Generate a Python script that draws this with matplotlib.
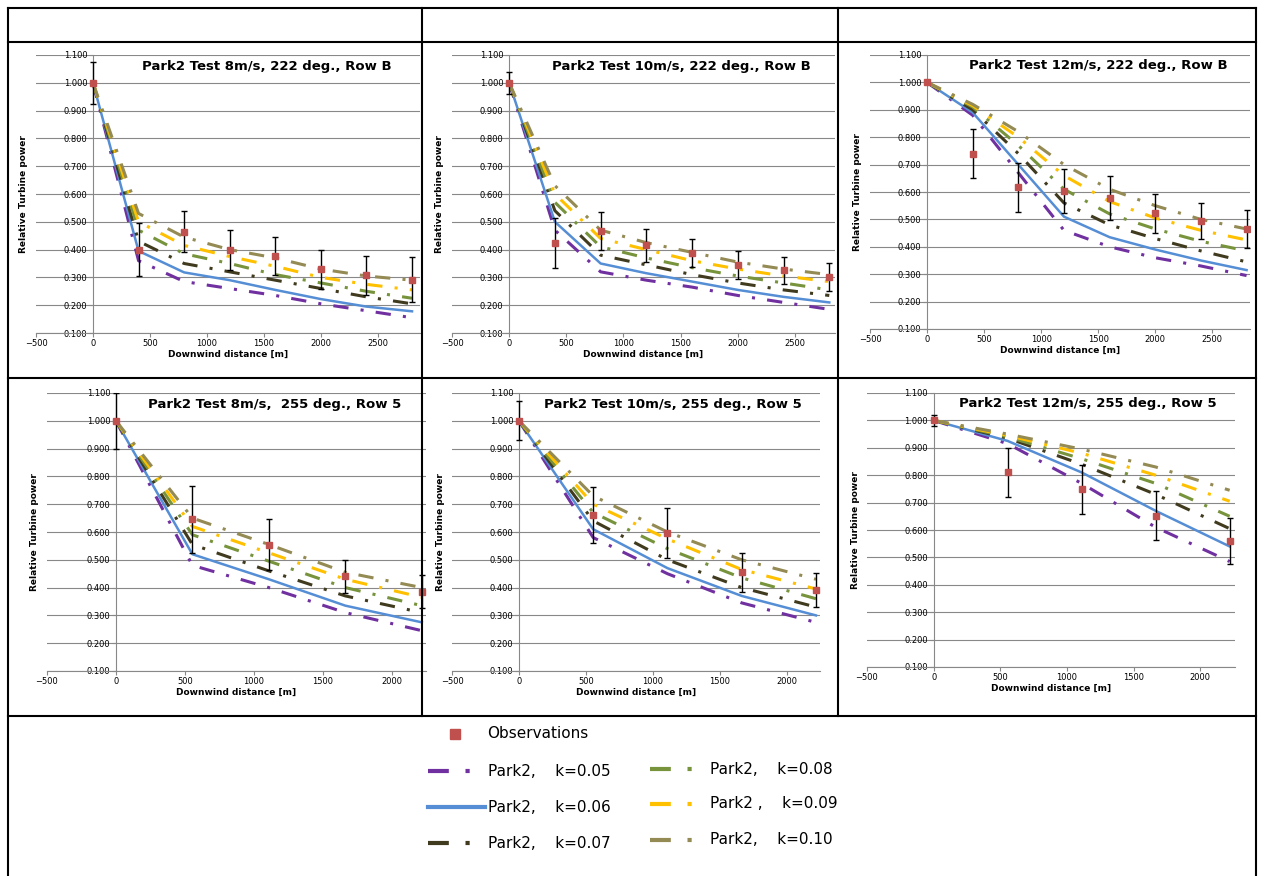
import numpy as np
import matplotlib.pyplot as plt
from matplotlib.lines import Line2D

W, H = 1265, 876

x_rowB = [0, 400, 800, 1200, 1600, 2000, 2400, 2800]
x_row5 = [0, 555, 1110, 1665, 2220]
k_labels = ['k=0.05', 'k=0.06', 'k=0.07', 'k=0.08', 'k=0.09', 'k=0.10']

titles = ['Park2 Test 8m/s, 222 deg., Row B', 'Park2 Test 10m/s, 222 deg., Row B',
          'Park2 Test 12m/s, 222 deg., Row B', 'Park2 Test 8m/s,  255 deg., Row 5',
          'Park2 Test 10m/s, 255 deg., Row 5', 'Park2 Test 12m/s, 255 deg., Row 5']

obs = [
    [1.0, 0.40, 0.465, 0.398, 0.378, 0.33, 0.308, 0.292],
    [1.0, 0.425, 0.467, 0.415, 0.387, 0.345, 0.325, 0.302],
    [1.0, 0.74, 0.617, 0.605, 0.578, 0.522, 0.495, 0.465],
    [1.0, 0.645, 0.555, 0.44, 0.385],
    [1.0, 0.662, 0.595, 0.455, 0.392],
    [1.0, 0.81, 0.748, 0.652, 0.56],
]
err = [
    [0.075, 0.095, 0.075, 0.072, 0.068, 0.07, 0.07, 0.08],
    [0.04, 0.09, 0.07, 0.06, 0.05, 0.05, 0.05, 0.05],
    [0.005, 0.09, 0.09, 0.08, 0.08, 0.07, 0.065, 0.07],
    [0.10, 0.12, 0.09, 0.06, 0.06],
    [0.07, 0.10, 0.09, 0.07, 0.06],
    [0.02, 0.09, 0.09, 0.09, 0.085],
]
model = [
    [[1, 0.36, 0.285, 0.26, 0.235, 0.205, 0.18, 0.155],
     [1, 0.395, 0.318, 0.29, 0.255, 0.222, 0.195, 0.178],
     [1, 0.43, 0.35, 0.32, 0.29, 0.26, 0.23, 0.205],
     [1, 0.47, 0.385, 0.35, 0.31, 0.28, 0.25, 0.225],
     [1, 0.50, 0.415, 0.375, 0.34, 0.30, 0.275, 0.255],
     [1, 0.53, 0.445, 0.40, 0.37, 0.33, 0.305, 0.29]],
    [[1, 0.47, 0.32, 0.29, 0.265, 0.235, 0.21, 0.185],
     [1, 0.50, 0.35, 0.315, 0.285, 0.255, 0.23, 0.21],
     [1, 0.54, 0.38, 0.345, 0.31, 0.28, 0.255, 0.235],
     [1, 0.57, 0.41, 0.37, 0.335, 0.305, 0.28, 0.255],
     [1, 0.60, 0.44, 0.40, 0.36, 0.33, 0.305, 0.285],
     [1, 0.63, 0.47, 0.425, 0.39, 0.355, 0.33, 0.31]],
    [[1, 0.88, 0.67, 0.46, 0.40, 0.36, 0.33, 0.295],
     [1, 0.89, 0.70, 0.51, 0.435, 0.39, 0.35, 0.315],
     [1, 0.90, 0.74, 0.56, 0.48, 0.43, 0.385, 0.345],
     [1, 0.91, 0.77, 0.61, 0.52, 0.465, 0.42, 0.385],
     [1, 0.915, 0.80, 0.66, 0.565, 0.505, 0.46, 0.425],
     [1, 0.92, 0.82, 0.70, 0.61, 0.55, 0.50, 0.465]],
    [[1, 0.48, 0.40, 0.31, 0.245],
     [1, 0.52, 0.43, 0.335, 0.275],
     [1, 0.555, 0.46, 0.37, 0.31],
     [1, 0.59, 0.495, 0.40, 0.335],
     [1, 0.62, 0.525, 0.43, 0.365],
     [1, 0.65, 0.555, 0.455, 0.40]],
    [[1, 0.58, 0.45, 0.345, 0.275],
     [1, 0.61, 0.47, 0.37, 0.30],
     [1, 0.64, 0.50, 0.40, 0.33],
     [1, 0.67, 0.54, 0.435, 0.36],
     [1, 0.70, 0.575, 0.465, 0.395],
     [1, 0.73, 0.60, 0.50, 0.43]],
    [[1, 0.915, 0.77, 0.61, 0.485],
     [1, 0.925, 0.81, 0.67, 0.54],
     [1, 0.935, 0.84, 0.73, 0.605],
     [1, 0.94, 0.86, 0.77, 0.65],
     [1, 0.945, 0.88, 0.80, 0.705],
     [1, 0.95, 0.895, 0.83, 0.745]],
]

colors = ['#7030A0', '#558ED5', '#403A1E', '#77933C', '#FFC000', '#948A54']
dash = (0, (5, 4, 1, 4))
styles = [dash, '-', dash, dash, dash, dash]
widths = [2.2, 1.8, 2.2, 2.2, 2.2, 2.2]

# axes rectangles in pixels: left, right, top, bottom, xmax
rects = [
    (36, 420, 55, 333, 2870),
    (452, 835, 55, 333, 2850),
    (870, 1250, 55, 329, 2830),
    (47, 426, 393, 671, 2250),
    (452, 820, 393, 671, 2250),
    (867, 1235, 393, 667, 2260),
]

fig = plt.figure(figsize=(W / 100, H / 100), dpi=100)

for i in range(6):
    l, r, t, b, xmax = rects[i]
    ax = fig.add_axes([l / W, 1 - b / H, (r - l) / W, (b - t) / H])
    xs = x_rowB if i < 3 else x_row5
    for j in range(6):
        ax.plot(xs, model[i][j], color=colors[j], linestyle=styles[j], lw=widths[j])
    ax.errorbar(xs, obs[i], yerr=err[i], fmt='s', color='#C0504D', ms=5,
                ecolor='black', elinewidth=1, capsize=2, zorder=5)
    ax.set_xlim(-500, xmax)
    ax.set_ylim(0.1, 1.1)
    ax.set_yticks(np.arange(0.1, 1.101, 0.1))
    ax.set_yticklabels([f'{v:.3f}' for v in np.arange(0.1, 1.101, 0.1)])
    ax.set_xticks(np.arange(-500, xmax, 500))
    ax.grid(axis='y', color='#888888', lw=0.8)
    ax.set_axisbelow(True)
    for s in ['top', 'right']:
        ax.spines[s].set_visible(False)
    ax.spines['left'].set_position(('data', 0))
    ax.spines['left'].set_color('#888888')
    ax.spines['bottom'].set_color('#888888')
    ax.tick_params(labelsize=6, length=3, color='#888888', pad=1)
    ax.set_xlabel('Downwind distance [m]', fontsize=6.5, fontweight='bold', labelpad=2)
    ax.set_ylabel('Relative Turbine power', fontsize=6.5, fontweight='bold', labelpad=2)
    ax.yaxis.set_label_coords(-0.02, 0.5)
    ax.text(0.6, 0.96, titles[i], transform=ax.transAxes, ha='center', va='center',
            fontsize=9.5, fontweight='bold')


def fx(px):
    return px / W


def fy(py):
    return 1 - py / H


# table borders
for yy in [8, 42, 378, 716]:
    fig.add_artist(Line2D([fx(8), fx(1256)], [fy(yy), fy(yy)], color='black', lw=1.5))
for xx in [8, 1256]:
    fig.add_artist(Line2D([fx(xx), fx(xx)], [fy(8), fy(876)], color='black', lw=1.5))
for xx in [422, 838]:
    fig.add_artist(Line2D([fx(xx), fx(xx)], [fy(8), fy(716)], color='black', lw=1.5))

# legend
fig.add_artist(Line2D([fx(455)], [fy(734)], marker='s', color='#C0504D', ms=7, ls='none'))
fig.text(fx(487), fy(734), 'Observations', fontsize=11, va='center')
entries = [(0, 428, 771), (1, 428, 807), (2, 428, 843),
           (3, 650, 769), (4, 650, 804), (5, 650, 840)]
for j, x0, y0 in entries:
    fig.add_artist(Line2D([fx(x0), fx(x0 + 57)], [fy(y0), fy(y0)], color=colors[j],
                          linestyle=styles[j], lw=3))
    name = 'Park2 ,' if j == 4 else 'Park2,'
    fig.text(fx(x0 + 60), fy(y0), f'{name}    {k_labels[j]}', fontsize=11, va='center')

fig.savefig('out.png', dpi=100)
